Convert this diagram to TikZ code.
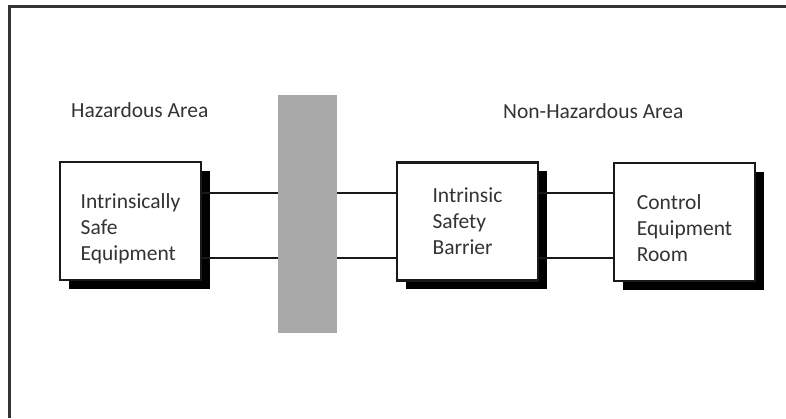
\documentclass[tikz,border=0pt]{standalone}
\usepackage{fontspec}
\setmainfont{Carlito}
\usetikzlibrary{shadows}
\definecolor{ink}{HTML}{333333}
\definecolor{bargray}{HTML}{A9A9A9}
\newcommand{\toppad}[1]{\rule{0pt}{#1}}
\tikzset{
  unitbox/.style={draw=black!90, line width=2.5pt, fill=white,
    minimum width=141pt, minimum height=118pt, inner sep=0pt,
    align=left, text=ink, font=\fontsize{21.5}{26}\selectfont,
    general shadow={fill=black, shadow xshift=9pt, shadow yshift=-8.5pt}},
  areatitle/.style={anchor=base west, inner sep=0pt, text=ink,
    font=\fontsize{21.5}{26}\selectfont},
  wire/.style={draw=black!90, line width=2pt},
  barrierbar/.style={fill=bargray, draw=none, minimum width=59pt,
    minimum height=238pt, inner sep=0pt},
  frameline/.style={draw=ink, line width=3pt}
}
\begin{document}
\begin{tikzpicture}[x=1pt, y=-1pt]
\useasboundingbox (0,0) rectangle (786,418);
\coordinate (ftop) at (786,6.5);
\coordinate (fcorner) at (9,6.5);
\coordinate (fbottom) at (9,418);
\draw[frameline] (fbottom) -- (fcorner) -- (ftop);

\node[areatitle] (haz) at (71,117) {Hazardous Area};
\node[areatitle] (nonhaz) at (503,118) {Non-Hazardous Area};

\node[unitbox] (ise) at (130.5,221) {\toppad{30pt}Intrinsically\\Safe\\Equipment};
\node[unitbox] (isb) at (467.5,221.5) {Intrinsic\\Safety\\Barrier};
\node[unitbox] (cer) at (684.5,222) {\toppad{28pt}Control\\Equipment\\Room};

\node[barrierbar] (bar) at (307.5,214) {};

\coordinate (ya) at (0,193);
\coordinate (yb) at (0,258);
\draw[wire] (ise.east |- ya) -- (bar.west |- ya);
\draw[wire] (ise.east |- yb) -- (bar.west |- yb);
\draw[wire] (bar.east |- ya) -- (isb.west |- ya);
\draw[wire] (bar.east |- yb) -- (isb.west |- yb);
\draw[wire] (isb.east |- ya) -- (cer.west |- ya);
\draw[wire] (isb.east |- yb) -- (cer.west |- yb);
\end{tikzpicture}
\end{document}
